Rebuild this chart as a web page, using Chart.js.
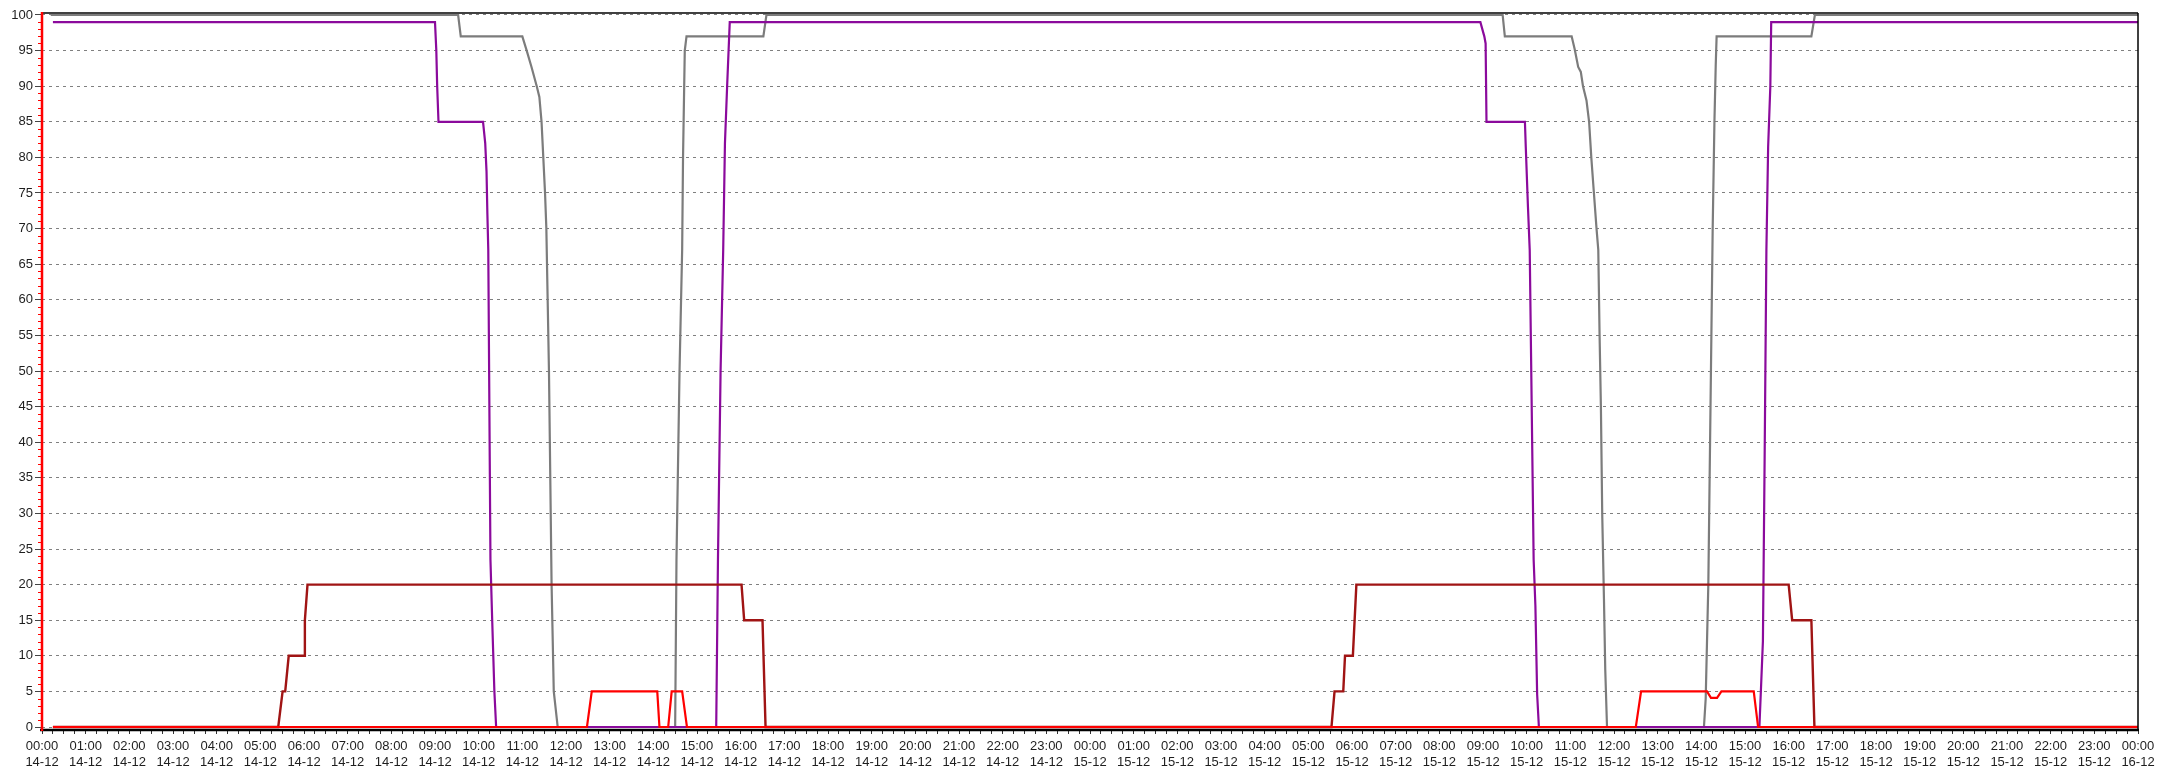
<!DOCTYPE html>
<html>
<head>
<meta charset="utf-8">
<script src="https://cdn.jsdelivr.net/npm/chart.js@4.4.1/dist/chart.umd.min.js"></script>
<style>
  html, body { margin: 0; padding: 0; background: #ffffff; }
  #wrap { width: 2161px; height: 772px; position: relative; }
</style>
</head>
<body>
<div id="wrap"><canvas id="c"></canvas></div>
<script>
// Time axis: hours since 00:00 14-12
const dayLabels = ['14-12', '15-12', '16-12'];
const yTickValues = [0,5,10,15,20,25,30,35,40,45,50,55,60,65,70,75,80,85,90,95,100];

// Grey series
const grayTimes  = [0.2, 9.53, 9.59, 11.0, 11.1, 11.21, 11.33, 11.39, 11.44, 11.48, 11.52, 11.55, 11.58, 11.61, 11.64, 11.67, 11.72, 11.81,
                    14.5, 14.53, 14.6, 14.66, 14.68, 14.72, 14.76, 16.52, 16.59,
                    33.45, 33.5, 35.03, 35.1, 35.18, 35.24, 35.29, 35.37, 35.43, 35.48, 35.54, 35.6, 35.64, 35.67, 35.7, 35.73, 35.77, 35.8, 35.84,
                    38.06, 38.1, 38.16, 38.22, 38.26, 38.3, 38.33, 38.35, 40.52, 40.6, 48];
const grayValues = [100, 100, 97, 97, 95, 92.7, 90, 88.5, 85, 80, 75, 70, 60, 50, 35, 20, 5, 0,
                    0, 23.5, 50, 67, 80, 95, 97, 97, 100,
                    100, 97, 97, 95.2, 92.7, 92, 90, 88, 85, 80, 75, 70, 67, 55, 45, 30, 18, 8, 0,
                    0, 4, 20, 50, 70, 85, 93, 97, 97, 100, 100];

// Purple series
const purpleTimes  = [0.25, 9.0, 9.03, 9.05, 9.08, 10.1, 10.15, 10.18, 10.2, 10.22, 10.27, 10.31, 10.36, 10.4,
                      15.44, 15.48, 15.54, 15.6, 15.64, 15.69, 15.75,
                      32.94, 33.03, 33.06, 33.08, 33.96, 33.98, 34.03, 34.07, 34.16, 34.2, 34.24, 34.28,
                      39.33, 39.41, 39.45, 39.49, 39.53, 39.58, 39.6, 48];
const purpleValues = [99, 99, 95, 90, 85, 85, 82, 78, 72, 67, 23.5, 15, 5, 0,
                      0, 23.5, 50, 67, 82, 90, 99,
                      99, 97, 96, 85, 85, 81.4, 73, 67, 23.5, 17, 4.6, 0,
                      0, 12, 38, 67, 81.5, 90, 99, 99];

// Dark red series
const darkRedTimes  = [0.25, 5.41, 5.51, 5.57, 5.65, 6.0, 6.02, 6.08, 16.02, 16.08, 16.5, 16.57,
                       29.53, 29.6, 29.8, 29.84, 30.02, 30.1, 40.0, 40.08, 40.52, 40.59, 48];
const darkRedValues = [0, 0, 5, 5, 10, 10, 15, 20, 20, 15, 15, 0,
                       0, 5, 5, 10, 10, 20, 20, 15, 15, 0, 0];

// Bright red series
const redTimes  = [0.25, 12.48, 12.59, 14.09, 14.14, 14.34, 14.42, 14.66, 14.77,
                   36.5, 36.62, 38.13, 38.22, 38.36, 38.46, 39.2, 39.3, 48];
const redValues = [0, 0, 5, 5, 0, 0, 5, 5, 0,
                   0, 5, 5, 4.1, 4.1, 5, 5, 0, 0];

function pts(t, v) { return t.map((x, i) => ({ x: x, y: v[i] })); }
function pad2(n) { return (n < 10 ? '0' : '') + n; }

const xTickValues = [];
for (let i = 0; i <= 48 * 4; i++) xTickValues.push(i / 4);

const framePlugin = {
  id: 'frame',
  afterDatasetsDraw(chart) {
    const { ctx, chartArea: a, scales } = chart;
    ctx.save();
    ctx.strokeStyle = '#000';
    ctx.lineWidth = 1.5;
    ctx.beginPath(); ctx.moveTo(a.left, a.top); ctx.lineTo(a.right, a.top); ctx.stroke();
    ctx.beginPath(); ctx.moveTo(a.right, a.top); ctx.lineTo(a.right, a.bottom); ctx.stroke();
    ctx.lineWidth = 2.5;
    ctx.beginPath(); ctx.moveTo(a.left - 2, a.bottom); ctx.lineTo(a.right + 1, a.bottom); ctx.stroke();
    ctx.strokeStyle = '#ff0000';
    ctx.lineWidth = 2.5;
    ctx.beginPath(); ctx.moveTo(a.left, a.top - 1); ctx.lineTo(a.left, a.bottom + 1); ctx.stroke();
    ctx.lineWidth = 1;
    const ys = scales.y;
    for (let v = 0; v <= 100; v++) {
      if (v % 5 === 0) continue;
      const py = Math.round(ys.getPixelForValue(v)) + 0.5;
      ctx.beginPath(); ctx.moveTo(a.left - 4, py); ctx.lineTo(a.left, py); ctx.stroke();
    }
    ctx.restore();
  }
};

const fontSpec = { family: "'Liberation Sans', Arial, sans-serif", size: 13 };

new Chart(document.getElementById('c'), {
  type: 'line',
  data: {
    datasets: [
      { label: 'red', data: pts(redTimes, redValues), borderColor: '#ff0000', borderWidth: 2.2, order: 1 },
      { label: 'darkred', data: pts(darkRedTimes, darkRedValues), borderColor: '#a01414', borderWidth: 2.4, order: 2 },
      { label: 'purple', data: pts(purpleTimes, purpleValues), borderColor: '#8b0a9c', borderWidth: 2.2, order: 3 },
      { label: 'gray', data: pts(grayTimes, grayValues), borderColor: '#7c7c7c', borderWidth: 2.2, order: 4 }
    ]
  },
  options: {
    responsive: true,
    maintainAspectRatio: false,
    animation: false,
    devicePixelRatio: 1,
    layout: { padding: { top: 13, right: 23, bottom: 0, left: 0 } },
    elements: { point: { radius: 0, hoverRadius: 0 }, line: { tension: 0, fill: false } },
    plugins: { legend: { display: false }, tooltip: { enabled: false } },
    scales: {
      x: {
        type: 'linear',
        min: 0,
        max: 48,
        afterFit(s) { s.height = 42; },
        afterBuildTicks(s) { s.ticks = xTickValues.map(v => ({ value: v })); },
        grid: { drawOnChartArea: false, drawTicks: true, tickLength: 4, tickColor: '#333', lineWidth: 1 },
        border: { display: false },
        ticks: {
          autoSkip: false,
          maxRotation: 0,
          minRotation: 0,
          padding: 5,
          color: '#1e1e1e',
          font: fontSpec,
          callback(v) {
            if (Math.abs(v - Math.round(v)) > 1e-6) return '';
            const h = Math.round(v);
            return [pad2(h % 24) + ':00', dayLabels[Math.floor(h / 24)]];
          }
        }
      },
      y: {
        min: -0.42,
        max: 100.28,
        afterFit(s) { s.width = 42; },
        afterBuildTicks(s) { s.ticks = yTickValues.map(v => ({ value: v })); },
        grid: { color: '#808080', lineWidth: 1, drawTicks: true, tickLength: 7, tickColor: '#444' },
        border: { display: false, dash: [3, 4] },
        ticks: { padding: 2, color: '#1e1e1e', font: fontSpec, callback: v => String(v) }
      }
    }
  },
  plugins: [framePlugin]
});
</script>
</body>
</html>
